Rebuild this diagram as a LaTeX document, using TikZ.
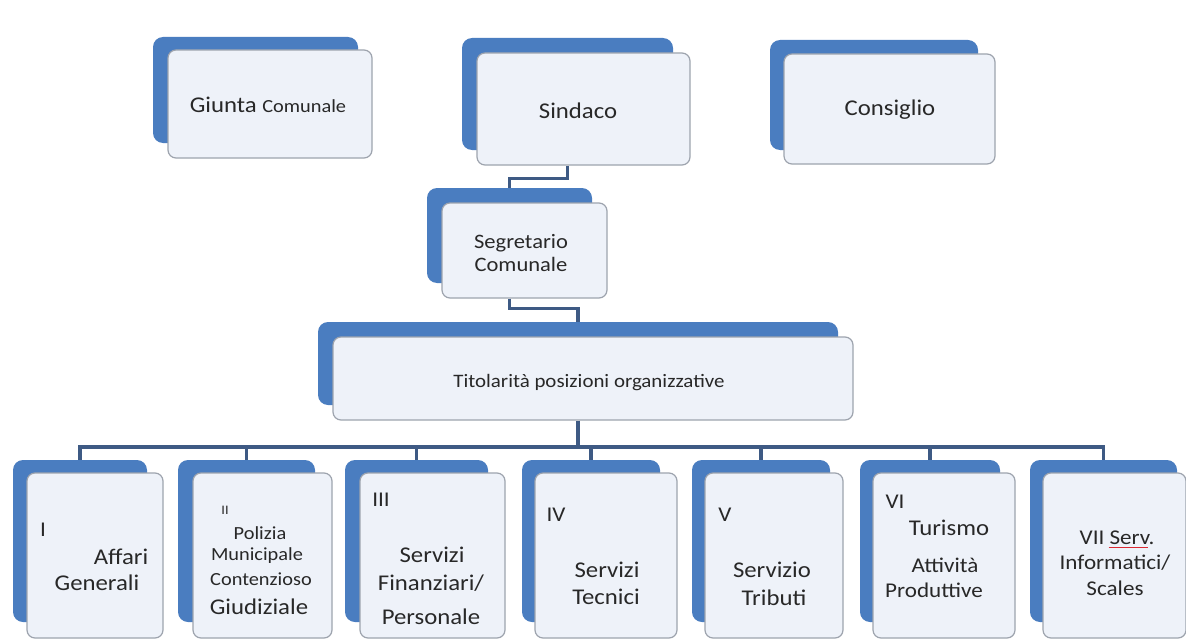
\documentclass[tikz,border=0pt]{standalone}
\usepackage{fontspec}
\setmainfont{Carlito}[FakeStretch=1.1]
\definecolor{boxblue}{RGB}{74,125,192}
\definecolor{boxfill}{RGB}{238,242,249}
\definecolor{boxline}{RGB}{158,164,174}
\definecolor{linkblue}{RGB}{62,90,132}
\definecolor{txt}{RGB}{40,40,40}
\definecolor{spell}{RGB}{220,40,50}
\begin{document}
\begin{tikzpicture}[x=1pt,y=-1pt,
   back/.style={rectangle,rounded corners=10pt,fill=boxblue,inner sep=0pt},
   front/.style={rectangle,rounded corners=8pt,draw=boxline,line width=1.2pt,fill=boxfill,inner sep=0pt},
   link/.style={draw=linkblue,line width=3.4pt},
   big/.style={text=txt,inner sep=0pt,font=\fontsize{22.5}{26}\selectfont},
   mid/.style={text=txt,inner sep=0pt,font=\fontsize{21}{23}\selectfont},
   small/.style={text=txt,inner sep=0pt,font=\fontsize{18.5}{21}\selectfont}]
   \useasboundingbox (0,0) rectangle (1186,642);
   \fill[white] (0,0) rectangle (1186,642);

   % top row
   \node[back,minimum width=205pt,minimum height=106pt] (bgiu) at (255.5,90) {};
   \node[front,minimum width=204pt,minimum height=108pt] (fgiu) at (270,104) {};
   \node[big] (tgiu) at (268,105) {Giunta {\fontsize{18.5}{20}\selectfont Comunale}};

   \node[back,minimum width=211pt,minimum height=112pt] (bsin) at (567.5,94) {};
   \node[front,minimum width=213pt,minimum height=112pt] (fsin) at (583.5,109) {};
   \node[big] (tsin) at (578,111) {Sindaco};

   \node[back,minimum width=208pt,minimum height=110pt] (bcon) at (874,95) {};
   \node[front,minimum width=211pt,minimum height=110pt] (fcon) at (889.5,109) {};
   \node[big] (tcon) at (890,110) {Consiglio};

   % segretario
   \node[back,minimum width=165pt,minimum height=95pt] (bseg) at (509.5,235.5) {};
   \node[front,minimum width=165pt,minimum height=95pt] (fseg) at (524.5,250.5) {};
   \node[mid,align=center,font=\fontsize{20.5}{23}\selectfont] (tseg) at (521,253) {Segretario\\Comunale};

   % titolarita
   \node[back,minimum width=520pt,minimum height=83pt] (btit) at (578,363.5) {};
   \node[front,minimum width=520pt,minimum height=83pt] (ftit) at (593,378.5) {};
   \node[small,font=\fontsize{19}{21}\selectfont] (ttit) at (589,383) {Titolarità posizioni organizzative};

   % settori
   \node[back,minimum width=134pt,minimum height=162pt] (b1) at (80,541) {};
   \node[front,minimum width=136pt,minimum height=165pt] (f1) at (95,555.5) {};
   \node[back,minimum width=137pt,minimum height=162pt] (b2) at (246.5,541) {};
   \node[front,minimum width=139pt,minimum height=165pt] (f2) at (262.5,555.5) {};
   \node[back,minimum width=143pt,minimum height=162pt] (b3) at (416.5,541) {};
   \node[front,minimum width=145pt,minimum height=165pt] (f3) at (432.5,555.5) {};
   \node[back,minimum width=138pt,minimum height=162pt] (b4) at (591,541) {};
   \node[front,minimum width=142pt,minimum height=165pt] (f4) at (606,555.5) {};
   \node[back,minimum width=138pt,minimum height=162pt] (b5) at (761,541) {};
   \node[front,minimum width=138pt,minimum height=165pt] (f5) at (774,555.5) {};
   \node[back,minimum width=140pt,minimum height=162pt] (b6) at (930,541) {};
   \node[front,minimum width=142pt,minimum height=165pt] (f6) at (944,555.5) {};
   \node[back,minimum width=147pt,minimum height=162pt] (b7) at (1103.5,541) {};
   \node[front,minimum width=143pt,minimum height=165pt] (f7) at (1114.5,555.5) {};

   % testi settori
   \node[mid] (t1n) at (43,530) {I};
   \node[big] (t1a) at (121,557) {Affari};
   \node[big] (t1b) at (97,583) {Generali};

   \node[small,font=\fontsize{13}{15}\selectfont] (t2n) at (225,510) {II};
   \node[small] (t2a) at (260,533) {Polizia};
   \node[small] (t2b) at (257,556) {Municipale};
   \node[small] (t2c) at (261,579) {Contenzioso};
   \node[big] (t2d) at (259,607) {Giudiziale};

   \node[mid] (t3n) at (381,500) {III};
   \node[big] (t3a) at (432,555) {Servizi};
   \node[big] (t3b) at (431,583) {Finanziari/};
   \node[big] (t3c) at (431,617) {Personale};

   \node[mid] (t4n) at (556,515) {IV};
   \node[big] (t4a) at (607,570) {Servizi};
   \node[big] (t4b) at (606,597) {Tecnici};

   \node[mid] (t5n) at (725,515) {V};
   \node[big] (t5a) at (772,570) {Servizio};
   \node[big] (t5b) at (774,598) {Tributi};

   \node[mid] (t6n) at (895,502) {VI};
   \node[big] (t6a) at (949,528) {Turismo};
   \node[mid] (t6b) at (945,565) {Attività};
   \node[mid] (t6c) at (934,590) {Produttive};

   \node[mid] (t7a) at (1117,538) {VII Serv.};
   \node[mid] (t7b) at (1115,563) {Informatici/};
   \node[mid] (t7c) at (1115,588) {Scales};
   \draw[spell,line width=1.2pt] ([xshift=-46pt,yshift=-2pt]t7a.south east) -- ([yshift=-2pt,xshift=-7pt]t7a.south east);

   % collegamenti
   \path[link] (bsin.center |- fsin.south) |- ++(0,13) -| (bseg.north);
   \path[link] (bseg.center |- fseg.south) |- ++(0,10) -| (btit.north);
   \coordinate (bus) at (btit.center |- 0,447);
   \path[link] (btit.center |- ftit.south) -- (bus);
   \path[link] (b1.north) |- (bus) -| (b7.north);
   \path[link] (b2.north) -- (b2.north |- bus);
   \path[link] (b3.north) -- (b3.north |- bus);
   \path[link] (b4.north) -- (b4.north |- bus);
   \path[link] (b5.north) -- (b5.north |- bus);
   \path[link] (b6.north) -- (b6.north |- bus);
\end{tikzpicture}
\end{document}
